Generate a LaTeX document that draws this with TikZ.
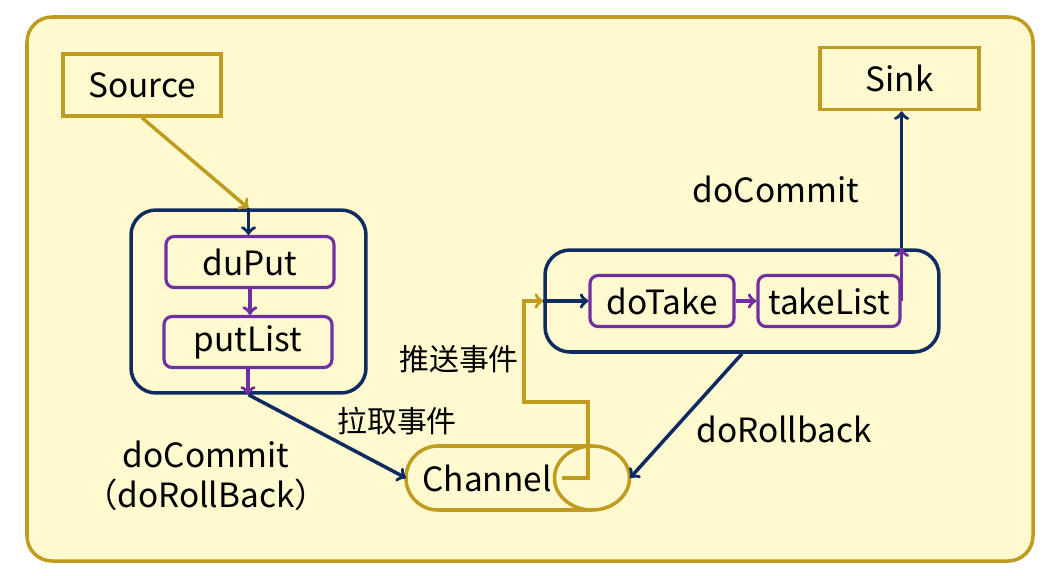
\documentclass[tikz,border=0pt]{standalone}
\usepackage{fontspec}
\setmainfont{Noto Sans CJK SC}
\usetikzlibrary{positioning}
\definecolor{flumegold}{RGB}{191,155,31}
\definecolor{flumepaper}{RGB}{254,249,206}
\definecolor{flumenavy}{RGB}{15,43,98}
\definecolor{flumepurple}{RGB}{112,48,160}

\begin{document}
\begin{tikzpicture}[x=0.02cm,y=-0.02cm,
        every node/.style={font=\fontsize{19}{23}\selectfont},
        cjklabel/.style={font=\fontsize{17}{21}\selectfont},
        endbox/.style={draw=flumegold,line width=2pt,minimum width=3.16cm,minimum height=1.24cm},
        groupbox/.style={draw=flumenavy,line width=2pt,rounded corners=0.5cm},
        stepbox/.style={draw=flumepurple,line width=1.8pt,rounded corners=0.16cm,minimum height=1.02cm},
        goldline/.style={flumegold,line width=2pt},
        navyline/.style={flumenavy,line width=2pt},
        purpleline/.style={flumepurple,line width=2pt}]
        \path[use as bounding box,fill=white] (0,0) rectangle (1062,575);
        \draw[draw=flumegold,fill=flumepaper,line width=2pt,rounded corners=0.5cm] (27,17) rectangle (1033,561);

        % agents
        \node[endbox] (source) at (142,85) {Source};
        \node[endbox,minimum width=3.18cm] (sink) at (899.5,78.5) {Sink};
        \node[groupbox,minimum width=4.7cm,minimum height=3.66cm] (putbox) at (248.5,301.5) {};
        \node[stepbox,minimum width=3.36cm] (duput) at (250,262) {duPut};
        \node[stepbox,minimum width=3.36cm] (putlist) at (248,342) {putList};
        \node[groupbox,minimum width=7.88cm,minimum height=2.04cm] (takebox) at (742,301) {};
        \node[stepbox,minimum width=2.88cm] (dotake) at (662,301) {doTake};
        \node[stepbox,minimum width=2.84cm] (takelist) at (829,301) {takeList};

        % channel drawn as a lying cylinder
        \node (channel) at (487,478) {Channel};
        \coordinate (chanwest) at (406,478);
        \coordinate (chaneast) at (630,478);
        \draw[goldline,rounded corners=0.64cm] (592,446) -- (406,446) -- (406,510) -- (592,510);
        \draw[goldline] (592,478) ellipse [x radius=0.75cm,y radius=0.64cm];

        % push side
        \draw[goldline,->] (source.south) -- (putbox.north);
        \draw[navyline,->] (putbox.north) -- (putbox.north |- duput.north);
        \draw[purpleline,->] (duput.south) -- (duput.south |- putlist.north);
        \draw[purpleline,->] (putlist.south) -- (putlist.south |- putbox.south);
        \draw[navyline,->] (putbox.south) -- (chanwest);

        % take side
        \coordinate (loopin) at (562,478);
        \draw[goldline,->] (loopin) -- (588,478) -- (588,402) -- (524,402) -- (524,301) -- (takebox.west);
        \draw[navyline,->] (takebox.west) -- (dotake.west);
        \draw[purpleline,->] (dotake.east) -- (takelist.west);
        \draw[purpleline,->] (takelist.east) -- (takelist.east |- takebox.north);
        \draw[navyline,->] (takelist.east |- takebox.north) -- (takelist.east |- sink.south);
        \draw[navyline,->] (takebox.south) -- (chaneast);

        % labels
        \node (commitup) at (776,189) {doCommit};
        \node (rollright) at (784,429) {doRollback};
        \node[align=center] (commitleft) at (206,476) {doCommit\\（doRollBack）};
        \node[cjklabel] (pushlabel) at (459,359) {推送事件};
        \node[cjklabel] (pulllabel) at (397,421) {拉取事件};
    \end{tikzpicture}
\end{document}
